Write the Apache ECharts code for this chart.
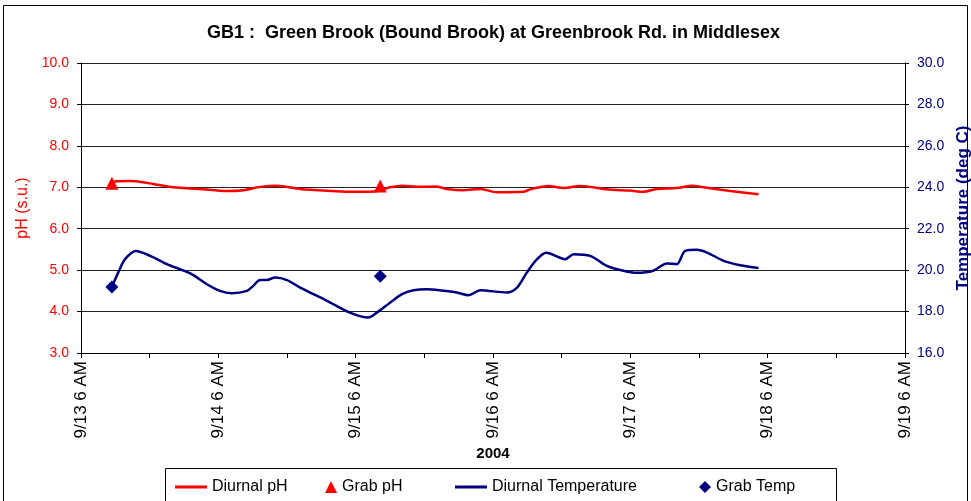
<!DOCTYPE html>
<html><head><meta charset="utf-8">
<script src="https://cdn.jsdelivr.net/npm/echarts@6/dist/echarts.min.js"></script>
<style>html,body{margin:0;padding:0;background:#fff}#c{width:971px;height:501px}</style>
</head><body><div id="c"></div>
<script>
// x values: hours after 9/13 6 AM
const tickLabels = ["9/13 6 AM","9/14 6 AM","9/15 6 AM","9/16 6 AM","9/17 6 AM","9/18 6 AM","9/19 6 AM"];
const diurnalPH = [[5.4,7.10],[5.9,7.14],[8.6,7.15],[10.9,7.12],[12.6,7.08],[16.1,7.00],[20.8,6.96],[25.5,6.91],[28.4,6.93],[31.3,7.01],[34.2,7.04],[38.3,6.96],[44.1,6.91],[47.6,6.89],[51.1,6.90],[52.3,6.93],[54.0,7.00],[56.1,7.04],[59.3,7.01],[61.9,7.02],[63.9,6.96],[66.8,6.93],[69.8,6.96],[72.7,6.88],[77.3,6.89],[78.5,6.95],[81.7,7.03],[84.3,6.98],[87.2,7.03],[89.0,7.01],[91.9,6.95],[95.9,6.92],[98.3,6.89],[100.6,6.96],[104.1,6.98],[106.8,7.04],[108.8,7.00],[113.5,6.91],[118.4,6.83]];
const grabPH = [[5.4,7.10],[52.3,7.03]];
const diurnalTemp = [[5.4,19.19],[6.5,19.88],[7.7,20.53],[9.6,20.93],[12.1,20.69],[15.0,20.29],[19.1,19.84],[22.0,19.32],[24.3,19.00],[26.3,18.89],[29.0,19.00],[30.1,19.24],[31.3,19.53],[32.5,19.53],[33.9,19.64],[36.0,19.52],[38.3,19.16],[43.0,18.52],[47.0,17.95],[50.2,17.71],[51.7,17.95],[54.0,18.43],[56.1,18.84],[58.1,19.03],[60.4,19.08],[63.0,19.02],[65.7,18.92],[67.7,18.79],[69.8,19.03],[74.4,18.92],[76.2,19.16],[77.9,19.88],[79.7,20.53],[81.3,20.84],[84.6,20.53],[86.1,20.77],[89.0,20.69],[91.9,20.21],[94.8,19.97],[97.1,19.87],[100.0,19.97],[102.4,20.32],[104.1,20.29],[105.6,20.93],[107.6,20.98],[109.4,20.85],[112.3,20.45],[115.2,20.24],[118.4,20.10]];
const grabTemp = [[5.4,19.19],[52.3,19.71]];

const font = 'Liberation Sans, Arial, sans-serif';
const legText = {fontFamily:font,fontSize:16,color:'#000'};
const chart = echarts.init(document.getElementById('c'), null, {renderer:'canvas'});
chart.setOption({
  animation:false,
  backgroundColor:'#fff',
  title:{text:'GB1 :  Green Brook (Bound Brook) at Greenbrook Rd. in Middlesex',left:202,top:19,
    textStyle:{fontFamily:font,fontSize:18,fontWeight:'bold',color:'#000'}},
  graphic:[
    {type:'rect',shape:{x:3.5,y:5.5,width:964,height:505},style:{fill:null,stroke:'#000',lineWidth:1}},
    {type:'rect',shape:{x:165.5,y:468.5,width:671,height:40},style:{fill:null,stroke:'#000',lineWidth:1}}
  ],
  legend:[
    {data:[{name:'Diurnal pH',icon:'rect'}],left:170,top:474,itemWidth:32,itemHeight:3,itemGap:4,textStyle:legText},
    {data:[{name:'Grab pH',icon:'triangle'}],left:320,top:474,itemWidth:12,itemHeight:12,textStyle:legText},
    {data:[{name:'Diurnal Temperature',icon:'rect'}],left:450,top:474,itemWidth:32,itemHeight:3,textStyle:legText},
    {data:[{name:'Grab Temp',icon:'diamond'}],left:694,top:474,itemWidth:12,itemHeight:12,textStyle:legText}
  ],
  grid:{left:81,right:66,top:63,bottom:148,outerBoundsMode:'none',containLabel:false},
  xAxis:{type:'value',min:0,max:144,interval:12,
    name:'2004',nameLocation:'middle',nameGap:86,
    nameTextStyle:{fontFamily:font,fontSize:15,fontWeight:'bold',color:'#000'},
    axisLine:{lineStyle:{color:'#000',width:1}},
    axisTick:{show:true,length:5,lineStyle:{color:'#000'}},
    splitLine:{show:false},
    axisLabel:{rotate:90,margin:8,fontFamily:font,fontSize:17,color:'#000',
      formatter:v=> (v%24===0 ? tickLabels[v/24] : '')}},
  yAxis:[
    {type:'value',min:3,max:10,interval:1,position:'left',
     name:'pH (s.u.)',nameLocation:'middle',nameGap:48,nameRotate:90,
     nameTextStyle:{fontFamily:font,fontSize:16,color:'#ff0000'},
     axisLine:{show:true,lineStyle:{color:'#000'}},
     axisTick:{show:true,length:4,lineStyle:{color:'#000'}},
     axisLabel:{fontFamily:font,fontSize:14,color:'#ff0000',margin:12,formatter:v=>v.toFixed(1)},
     splitLine:{show:true,lineStyle:{color:'#222',width:1}}},
    {type:'value',min:16,max:30,interval:2,position:'right',
     name:'Temperature (deg C)',nameLocation:'middle',nameGap:47,nameRotate:90,
     nameTextStyle:{fontFamily:font,fontSize:17,fontWeight:'bold',color:'#000080'},
     axisLine:{show:true,lineStyle:{color:'#000'}},
     axisTick:{show:true,length:4,lineStyle:{color:'#000'}},
     axisLabel:{fontFamily:font,fontSize:14,color:'#000080',margin:12,formatter:v=>v.toFixed(1)},
     splitLine:{show:false}}
  ],
  series:[
    {name:'Diurnal pH',type:'line',yAxisIndex:0,data:diurnalPH,symbol:'none',smooth:0.3,
     lineStyle:{color:'#ff0000',width:2.5},itemStyle:{color:'#ff0000'}},
    {name:'Grab pH',type:'scatter',yAxisIndex:0,data:grabPH,symbol:'triangle',symbolSize:13,
     itemStyle:{color:'#ff0000',opacity:1}},
    {name:'Diurnal Temperature',type:'line',yAxisIndex:1,data:diurnalTemp,symbol:'none',smooth:0.3,
     lineStyle:{color:'#000080',width:2.5},itemStyle:{color:'#000080'}},
    {name:'Grab Temp',type:'scatter',yAxisIndex:1,data:grabTemp,symbol:'diamond',symbolSize:13,
     itemStyle:{color:'#000080',opacity:1}}
  ]
});
</script></body></html>
